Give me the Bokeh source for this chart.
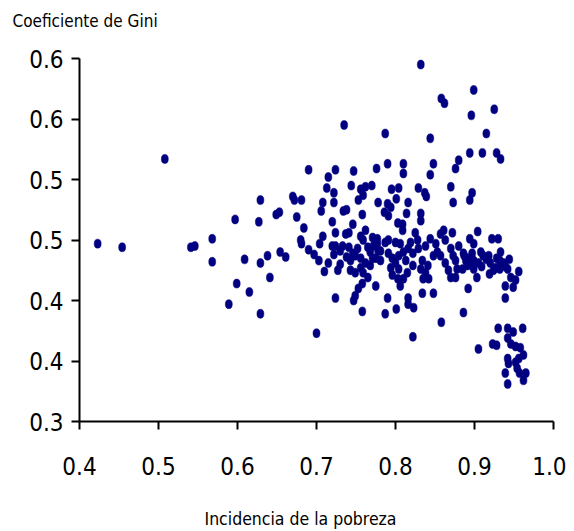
from bokeh.plotting import figure
from bokeh.models import FixedTicker, Range1d, ColumnDataSource, Title
from bokeh.embed import file_html
from bokeh.resources import INLINE

# Data: incidencia de la pobreza (x) vs coeficiente de Gini (y)
pobreza = [
    0.423, 0.454, 0.508, 0.541, 0.546, 0.568, 0.568, 0.597, 0.609, 0.599,
    0.589, 0.615, 0.629, 0.627, 0.629, 0.638, 0.641, 0.629, 0.649, 0.653,
    0.654, 0.661, 0.670, 0.672, 0.681, 0.675, 0.684, 0.680, 0.681, 0.690,
    0.697, 0.690, 0.700, 0.715, 0.713, 0.722, 0.722, 0.708, 0.706, 0.724,
    0.720, 0.724, 0.708, 0.704, 0.720, 0.724, 0.722, 0.710, 0.727, 0.730,
    0.724, 0.735, 0.747, 0.744, 0.756, 0.762, 0.770, 0.759, 0.753, 0.776,
    0.778, 0.734, 0.738, 0.758, 0.746, 0.741, 0.737, 0.762, 0.756, 0.759,
    0.771, 0.733, 0.741, 0.746, 0.743, 0.749, 0.752, 0.765, 0.768, 0.772,
    0.777, 0.778, 0.775, 0.768, 0.759, 0.756, 0.749, 0.743, 0.765, 0.758,
    0.753, 0.749, 0.747, 0.758, 0.756, 0.777, 0.787, 0.781, 0.791, 0.796,
    0.794, 0.800, 0.804, 0.806, 0.803, 0.810, 0.815, 0.810, 0.816, 0.819,
    0.800, 0.806, 0.829, 0.834, 0.832, 0.838, 0.841, 0.842, 0.835, 0.844,
    0.851, 0.853, 0.848, 0.863, 0.870, 0.873, 0.876, 0.878, 0.876, 0.870,
    0.880, 0.886, 0.892, 0.897, 0.892, 0.886, 0.858, 0.790, 0.787, 0.801,
    0.816, 0.816, 0.823, 0.834, 0.848, 0.822, 0.790, 0.810, 0.810, 0.848,
    0.844, 0.880, 0.876, 0.894, 0.795, 0.804, 0.801, 0.816, 0.829, 0.837,
    0.839, 0.870, 0.873, 0.897, 0.894, 0.790, 0.794, 0.786, 0.791, 0.814,
    0.832, 0.832, 0.803, 0.809, 0.809, 0.825, 0.861, 0.857, 0.872, 0.787,
    0.844, 0.832, 0.858, 0.862, 0.899, 0.896, 0.925, 0.915, 0.910, 0.928,
    0.933, 0.904, 0.922, 0.930, 0.894, 0.899, 0.887, 0.889, 0.897, 0.899,
    0.891, 0.899, 0.903, 0.908, 0.911, 0.915, 0.909, 0.928, 0.932, 0.937,
    0.944, 0.939, 0.932, 0.927, 0.924, 0.919, 0.942, 0.946, 0.956, 0.952,
    0.949, 0.939, 0.939, 0.905, 0.930, 0.942, 0.949, 0.961, 0.923, 0.928,
    0.942, 0.946, 0.952, 0.958, 0.962, 0.956, 0.942, 0.943, 0.939, 0.952,
    0.954, 0.957, 0.965, 0.962, 0.942, 0.730, 0.738, 0.762, 0.771, 0.781,
    0.804, 0.813, 0.822, 0.822, 0.828, 0.838, 0.857, 0.863, 0.867, 0.885,
    0.905, 0.920, 0.918, 0.933, 0.703, 0.715, 0.791, 0.796, 0.775,
]
gini = [
    0.447, 0.444, 0.517, 0.444, 0.445, 0.451, 0.432, 0.467, 0.434, 0.414,
    0.397, 0.407, 0.483, 0.465, 0.431, 0.437, 0.419, 0.389, 0.471, 0.473,
    0.440, 0.436, 0.486, 0.483, 0.483, 0.469, 0.460, 0.450, 0.447, 0.442,
    0.438, 0.508, 0.373, 0.502, 0.493, 0.489, 0.481, 0.481, 0.474, 0.508,
    0.465, 0.456, 0.453, 0.447, 0.445, 0.445, 0.438, 0.424, 0.425, 0.430,
    0.402, 0.545, 0.507, 0.495, 0.492, 0.494, 0.495, 0.487, 0.483, 0.509,
    0.481, 0.474, 0.475, 0.471, 0.463, 0.456, 0.455, 0.458, 0.453, 0.450,
    0.452, 0.445, 0.444, 0.439, 0.433, 0.437, 0.443, 0.444, 0.440, 0.445,
    0.451, 0.441, 0.435, 0.429, 0.423, 0.427, 0.423, 0.425, 0.419, 0.414,
    0.410, 0.404, 0.400, 0.391, 0.435, 0.447, 0.448, 0.433, 0.439, 0.435,
    0.427, 0.431, 0.426, 0.412, 0.418, 0.418, 0.423, 0.440, 0.443, 0.448,
    0.448, 0.447, 0.443, 0.433, 0.426, 0.423, 0.429, 0.418, 0.418, 0.451,
    0.447, 0.440, 0.437, 0.450, 0.443, 0.437, 0.433, 0.426, 0.419, 0.419,
    0.445, 0.439, 0.435, 0.429, 0.410, 0.390, 0.382, 0.402, 0.389, 0.393,
    0.402, 0.397, 0.394, 0.406, 0.406, 0.370, 0.513, 0.513, 0.505, 0.513,
    0.504, 0.516, 0.509, 0.522, 0.492, 0.493, 0.484, 0.481, 0.493, 0.489,
    0.486, 0.494, 0.481, 0.489, 0.483, 0.480, 0.477, 0.473, 0.470, 0.472,
    0.472, 0.466, 0.464, 0.463, 0.458, 0.456, 0.458, 0.455, 0.456, 0.538,
    0.534, 0.595, 0.567, 0.563, 0.574, 0.553, 0.558, 0.538, 0.522, 0.522,
    0.517, 0.457, 0.451, 0.451, 0.451, 0.447, 0.437, 0.433, 0.439, 0.433,
    0.429, 0.426, 0.419, 0.440, 0.437, 0.434, 0.428, 0.435, 0.433, 0.431,
    0.434, 0.428, 0.426, 0.427, 0.425, 0.422, 0.426, 0.419, 0.424, 0.417,
    0.411, 0.412, 0.402, 0.360, 0.377, 0.377, 0.374, 0.377, 0.364, 0.363,
    0.369, 0.364, 0.362, 0.361, 0.355, 0.352, 0.352, 0.348, 0.340, 0.349,
    0.344, 0.340, 0.340, 0.334, 0.331, 0.441, 0.436, 0.431, 0.435, 0.441,
    0.437, 0.433, 0.429, 0.439, 0.450, 0.445, 0.437, 0.431, 0.425, 0.426,
    0.431, 0.431, 0.437, 0.440, 0.433, 0.431, 0.450, 0.421, 0.412,
]

x_ticks = [0.4, 0.5, 0.6, 0.7, 0.8, 0.9, 1.0]
x_tick_labels = ["0.4", "0.5", "0.6", "0.7", "0.8", "0.9", "1.0"]
y_ticks = [0.30, 0.35, 0.40, 0.45, 0.50, 0.55, 0.60]
y_tick_labels = ["0.3", "0.4", "0.4", "0.5", "0.5", "0.6", "0.6"]

FONT = "DejaVu Sans Condensed, Liberation Sans, sans-serif"

p = figure(width=566, height=531, output_backend="svg", toolbar_location=None,
           title=None,
           x_range=Range1d(0.4, 1.0), y_range=Range1d(0.30, 0.60),
           min_border_left=79, min_border_right=13, min_border_top=58,
           min_border_bottom=110)
p.outline_line_color = None
p.background_fill_color = "white"
p.border_fill_color = "white"
p.xgrid.visible = False
p.ygrid.visible = False

src = ColumnDataSource(dict(x=pobreza, y=gini))
p.ellipse(x="x", y="y", width=7, height=9, width_units="screen",
          height_units="screen", source=src,
          fill_color="#000080", line_color="#000080", line_width=0.5)

for ax in (p.xaxis[0], p.yaxis[0]):
    ax.axis_line_color = "black"
    ax.axis_line_width = 2
    ax.major_tick_line_color = "black"
    ax.major_tick_line_width = 2
    ax.major_tick_in = 0
    ax.major_tick_out = 8
    ax.minor_tick_line_color = None
    ax.major_label_text_font = FONT
    ax.major_label_text_font_size = "24px"
    ax.major_label_text_color = "black"

p.xaxis.ticker = FixedTicker(ticks=x_ticks)
p.xaxis.major_label_overrides = {t: l for t, l in zip(x_ticks, x_tick_labels)}
p.yaxis.ticker = FixedTicker(ticks=y_ticks)
p.yaxis.major_label_overrides = {t: l for t, l in zip(y_ticks, y_tick_labels)}
p.xaxis.major_label_standoff = 27
p.yaxis.major_label_standoff = 8

# spacer (nearest the frame) then the y-variable title above the plot
p.add_layout(Title(text=" ", text_font_size="10px", standoff=13), "above")
p.add_layout(Title(text="Coeficiente de Gini", align="left", offset=-67,
                   standoff=4, text_font=FONT, text_font_size="17px",
                   text_font_style="normal", text_color="black"), "above")

# spacer below the x axis, then the x-variable title
p.add_layout(Title(text=" ", text_font_size="10px", standoff=17), "below")
p.add_layout(Title(text="Incidencia de la pobreza", align="left", offset=125,
                   vertical_align="top", standoff=2, text_font=FONT,
                   text_font_size="17.5px", text_font_style="normal",
                   text_color="black"), "below")

open("out.html", "w").write(file_html(p, INLINE))
